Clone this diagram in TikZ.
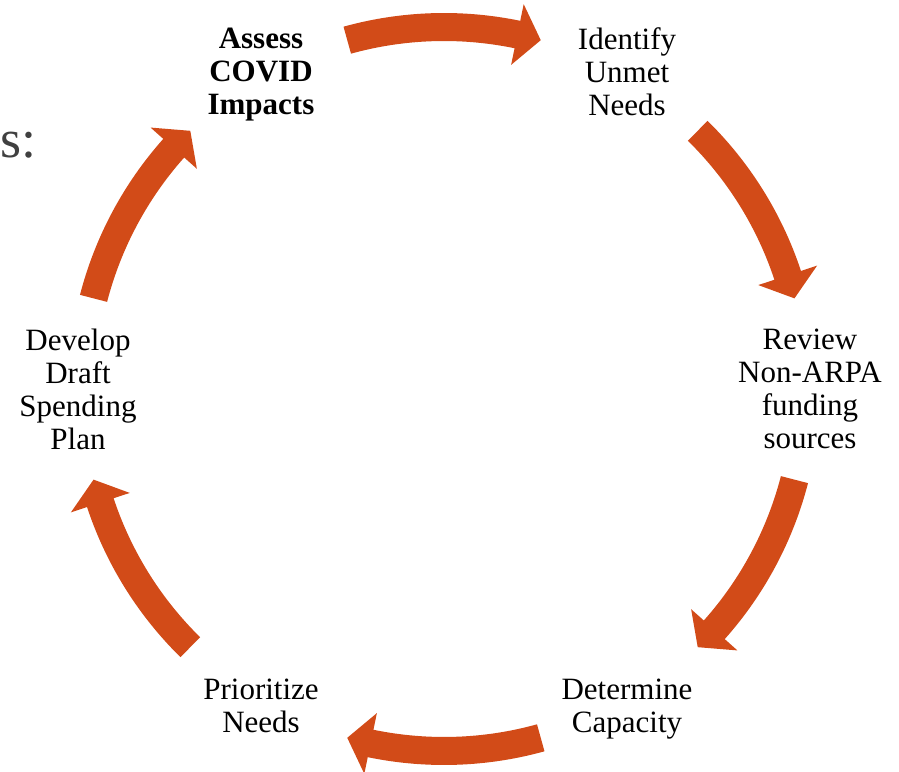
\documentclass[tikz,border=0pt]{standalone}
\usepackage{fontspec}
\setmainfont{Liberation Serif}
\definecolor{arr}{HTML}{D24B18}
\definecolor{sgray}{HTML}{404040}
\begin{document}
\begin{tikzpicture}[x=1pt,y=1pt,
  lbl/.style={align=center, font=\fontsize{31}{33}\selectfont, inner sep=0pt},
  blbl/.style={lbl, font=\bfseries\fontsize{31}{33}\selectfont}]
\useasboundingbox (0,0) rectangle (899,771);
\coordinate (C) at (444,382);
\node[blbl] (assess)  at ([shift={(C)}]120:366) [yshift=-3] {Assess\\COVID\\Impacts};
\node[lbl]  (identify) at ([shift={(C)}]60:366) {Identify\\Unmet\\Needs};
\node[lbl]  (review)   at ([shift={(C)}]0:366) {Review\\Non-ARPA\\funding\\sources};
\node[lbl]  (determine) at ([shift={(C)}]-60:366) [yshift=-3] {Determine\\Capacity};
\node[lbl]  (prioritize) at ([shift={(C)}]-120:366) {Prioritize\\Needs};
\node[lbl]  (develop)  at ([shift={(C)}]180:366) {Develop\\Draft\\Spending\\Plan};
\node[anchor=base west, text=sgray, inner sep=0pt, font=\fontsize{54}{60}\selectfont] (s) at (0,613) {s:};
\foreach \m in {90,30,-30,-90,-150,150}{
  \pgfmathsetmacro\ta{\m+15.5}
  \pgfmathsetmacro\tb{\m-11.7}
  \pgfmathsetmacro\te{\m-15.5}
  \fill[arr] ([shift={(C)}]\ta:376) arc[start angle=\ta, end angle=\tb, radius=376]
    -- ([shift={(C)}]\tb:393) -- ([shift={(C)}]\te:362) -- ([shift={(C)}]\tb:331)
    -- ([shift={(C)}]\tb:348) arc[start angle=\tb, end angle=\ta, radius=348] -- cycle;
}
\end{tikzpicture}
\end{document}
